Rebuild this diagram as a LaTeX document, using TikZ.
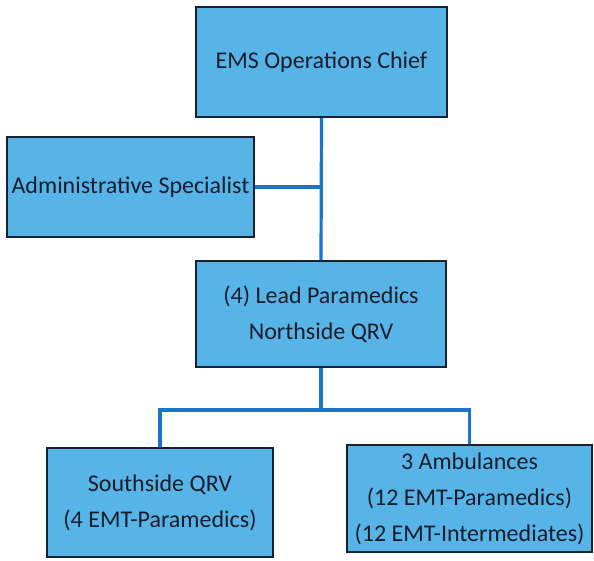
\documentclass[tikz,border=0pt]{standalone}
\usepackage{fontspec}
\setmainfont{Carlito}
\definecolor{boxfill}{RGB}{86,180,230}
\definecolor{boxedge}{RGB}{22,34,52}
\definecolor{linkblue}{RGB}{26,116,206}
\definecolor{inktext}{RGB}{20,28,45}
\begin{document}
\begin{tikzpicture}[x=1pt,y=-1pt,
  unit/.style={draw=boxedge, line width=2pt, fill=boxfill, inner sep=0pt,
    align=center, text=inktext, font=\fontsize{24}{36}\selectfont},
  link/.style={draw=linkblue, line width=3.2pt}]
\useasboundingbox (0,0) rectangle (594,560);

% organisation units
\node[unit, minimum width=251pt, minimum height=110pt] (chief) at (321.5,62) {EMS Operations Chief};
\node[unit, minimum width=247pt, minimum height=100pt] (admin) at (130.5,187) {Administrative Specialist};
\node[unit, minimum width=250pt, minimum height=106pt] (lead) at (321,314) {(4) Lead Paramedics\\Northside QRV};
\node[unit, minimum width=226pt, minimum height=109pt] (south) at (160,502.5) {Southside QRV\\(4 EMT-Paramedics)};
\node[unit, minimum width=245pt, minimum height=107pt] (amb) at (469.5,498.5) {3 Ambulances\\(12 EMT-Paramedics)\\(12 EMT-Intermediates)};

% reporting lines
\draw[link] (chief.south) -- (lead.north);
\draw[link] (admin.east) -- (admin.east -| chief.south);
\coordinate (split) at (321,410);
\draw[link] (lead.south) -- (split);
\draw[link] (south.north) |- (split) -| (amb.north);
\end{tikzpicture}
\end{document}
